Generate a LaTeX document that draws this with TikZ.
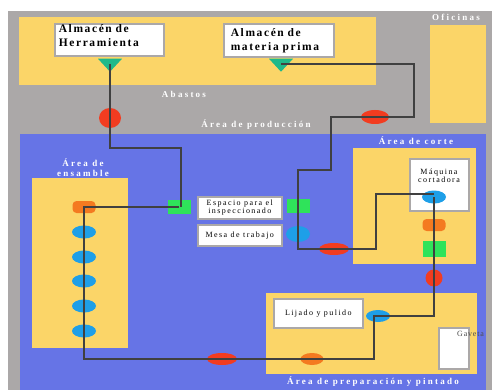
\documentclass[tikz,border=0pt]{standalone}
\usepackage{fontspec}
\setmainfont{Liberation Serif}
\usetikzlibrary{shapes.geometric, positioning}
\definecolor{plantgray}{HTML}{ABA8A8}
\definecolor{areablue}{HTML}{6674E6}
\definecolor{areayellow}{HTML}{FBD568}
\definecolor{stepgreen}{HTML}{2FE35A}
\definecolor{stepteal}{HTML}{1EB98A}
\definecolor{stepblue}{HTML}{1E9FE8}
\definecolor{steporange}{HTML}{F47A20}
\definecolor{stepred}{HTML}{F23C20}
\tikzset{
    x=1pt, y=-1pt,
    zone/.style={
        rectangle, anchor=north west, inner sep=0pt, fill=areayellow
    },
    station/.style={
        rectangle, anchor=north west, inner sep=0pt, fill=white,
        draw=plantgray, line width=1.6pt, align=center,
        font=\fontsize{8}{8}\selectfont\addfontfeature{LetterSpace=18}
    },
    bigstation/.style={
        station, align=left,
        font=\fontsize{11.5}{14}\selectfont\bfseries\addfontfeature{LetterSpace=14}
    },
    arealabel/.style={
        align=center, inner sep=0pt, text=white,
        font=\fontsize{9}{10}\selectfont\bfseries\addfontfeature{LetterSpace=25}
    },
    oper/.style={
        ellipse, minimum width=24pt, minimum height=13pt, inner sep=0pt, fill=stepblue
    },
    transport/.style={
        ellipse, minimum width=30pt, minimum height=12pt, inner sep=0pt, fill=stepred
    },
    inspect/.style={
        rectangle, minimum width=23pt, minimum height=14pt, inner sep=0pt, fill=stepgreen
    },
    delay/.style={
        rectangle, rounded corners=4pt, minimum width=23pt, minimum height=12pt, inner sep=0pt, fill=steporange
    },
    store/.style={
        isosceles triangle, isosceles triangle stretches, shape border rotate=-90,
        minimum width=24pt, minimum height=13pt, inner sep=0pt, fill=stepteal
    },
    route/.style={
        line width=1.1pt, draw=black!75
    }
}
\begin{document}
\begin{tikzpicture}

    \useasboundingbox (0,0) rectangle (492,390);
    \fill[plantgray] (8,11) rectangle (492,390);
    \fill[areablue] (20,134) rectangle (486,390);

    \node[zone, minimum width=357pt, minimum height=68pt] (abastos) at (19,17) {};
    \node[zone, minimum width=56pt, minimum height=98pt]  (oficinas) at (430,25) {};
    \node[zone, minimum width=96pt, minimum height=170pt] (ensamble) at (32,178) {};
    \node[zone, minimum width=123pt, minimum height=116pt] (corte) at (353,148) {};
    \node[zone, minimum width=211pt, minimum height=81pt] (pintado) at (266,293) {};

    \node[arealabel] at (184,94) {Abastos};
    \node[arealabel] at (456,17) {Oficinas};
    \node[arealabel] at (256,125) {Área de producción};
    \node[arealabel] at (83,168) {Área de\\ensamble};
    \node[arealabel] at (416,141) {Área de corte};
    \node[arealabel] at (373,382) {Área de preparación y pintado};

    \node[bigstation, inner xsep=4pt, text width=101pt, minimum height=32pt] (herramienta) at (54,23) {Almacén de\\Herramienta\\[-9pt]\strut};
    \node[bigstation, inner xsep=7pt, text width=96pt, minimum height=33pt] (materia) at (223,23) {Almacén de\\materia prima};
    \node[station, minimum width=59pt, minimum height=52pt] (maquina) at (409,158) {};
    \node[inner sep=0pt, align=center, font=\fontsize{8}{8}\selectfont\addfontfeature{LetterSpace=18}] (maquinatxt) at (439,176) {Máquina\\cortadora};
    \node[station, minimum width=84pt, minimum height=22pt] (espacio) at (197,196) {Espacio para el\\inspeccionado};
    \node[station, minimum width=84pt, minimum height=21pt] (mesa) at (197,224) {Mesa de trabajo};
    \node[station, minimum width=89pt, minimum height=29pt] (lijado) at (273,298) {Lijado y pulido};
    \node[station, minimum width=30pt, minimum height=41pt] (gaveta) at (438,327) {};
    \node[inner sep=0pt, anchor=west, text=black!70, font=\fontsize{8}{8}\selectfont\addfontfeature{LetterSpace=10}] (gavetatxt) at (457,334) {Gaveta};

    \node[store] (t1) at (110,64) {};
    \node[store] (t2) at (281,64) {};
    \node[transport, minimum width=22pt, minimum height=20pt] (r1) at (110,118) {};
    \node[transport, minimum width=28pt, minimum height=14pt] (r2) at (375,117) {};
    \node[inspect] (g1) at (179,207) {};
    \node[inspect] (g2) at (298,206) {};
    \node[oper, minimum height=16pt] (b0) at (298,234) {};
    \node[transport] (r3) at (334,249) {};
    \node[oper] (b7) at (434,197) {};
    \node[delay] (o1) at (434,225) {};
    \node[inspect, minimum height=16pt] (g3) at (434,249) {};
    \node[transport, minimum width=17pt, minimum height=17pt] (r4) at (434,278) {};
    \node[oper, minimum height=12pt] (b8) at (378,316) {};
    \node[delay, ellipse] (o2) at (312,359) {};
    \node[transport] (r5) at (222,359) {};
    \node[delay] (o3) at (84,207) {};
    \node[oper] (b1) at (84,232) {};
    \node[oper] (b2) at (84,257) {};
    \node[oper] (b3) at (84,281) {};
    \node[oper] (b4) at (84,306) {};
    \node[oper] (b5) at (84,331) {};

    % recorridos
    \draw[route] (t1.center) -- (r1.center) -- (110,148) -- (181,148) -- (181,207);
    \draw[route] (g1.center) -- (o3.center) -- (b1.center) -- (b2.center) -- (b3.center) -- (b4.center) -- (b5.center) -- (84,359) -- (r5.center) -- (o2.center) -- (374,359) -- (374,316) -- (b8.center);
    \draw[route] (b8.center) -- (434,316) -- (r4.center) -- (g3.center) -- (o1.center) -- (b7.center);
    \draw[route] (434,194) -- (376,194) -- (376,249) -- (r3.center) -- (298,249) -- (b0.center) -- (g2.center) -- (298,170) -- (331,170) -- (331,117) -- (r2.center) -- (414,117) -- (414,64) -- (t2.center);

\end{tikzpicture}
\end{document}
